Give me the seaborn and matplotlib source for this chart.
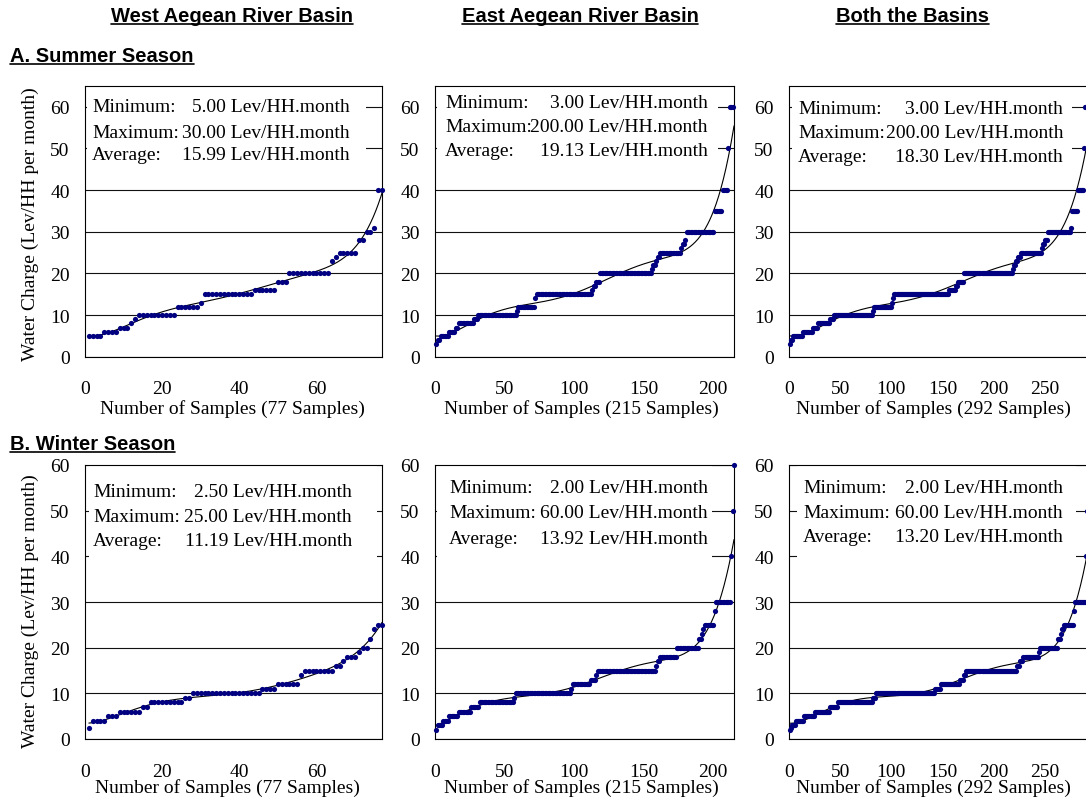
import numpy as np
import pandas as pd
import matplotlib
matplotlib.use("Agg")
import matplotlib.pyplot as plt
import seaborn as sns
from matplotlib.patches import Rectangle
from matplotlib.lines import Line2D

# Household water charges (Lev/HH per month), sorted ascending and stored as
# charge level + number of households paying that level.
west_summer_levels = [5, 6, 7, 8, 9, 10, 12, 13, 15, 16, 18, 20, 23, 24, 25, 28, 30, 31, 40]
west_summer_counts = [4, 4, 3, 1, 1, 10, 6, 1, 13, 6, 3, 11, 1, 1, 5, 2, 2, 1, 2]

east_summer_levels = [3, 4, 5, 6, 7, 8, 9, 10, 11, 12, 14, 15, 16, 17, 18, 20, 21, 22,
                      23, 24, 25, 26, 27, 28, 30, 35, 40, 50, 60, 200]
east_summer_counts = [1, 2, 6, 5, 2, 11, 3, 28, 1, 12, 1, 40, 1, 2, 3, 37, 1, 2,
                      1, 2, 15, 1, 2, 1, 20, 6, 4, 1, 3, 1]

west_winter_levels = [2.5, 4, 5, 6, 7, 8, 9, 10, 11, 12, 14, 15, 16, 17, 18, 19, 20, 22, 24, 25]
west_winter_counts = [1, 4, 3, 6, 2, 9, 2, 18, 4, 6, 1, 8, 2, 1, 3, 1, 2, 1, 1, 2]

east_winter_levels = [2, 3, 4, 5, 6, 7, 8, 9, 10, 11, 12, 13, 14, 15, 16, 17, 18, 20,
                      22, 23, 24, 25, 28, 30, 40, 50, 60]
east_winter_counts = [1, 4, 4, 7, 9, 6, 25, 1, 40, 1, 13, 4, 1, 42, 1, 2, 12, 16,
                      2, 1, 1, 7, 1, 11, 1, 1, 1]

basin_titles = ["West Aegean River Basin", "East Aegean River Basin", "Both the Basins"]
season_titles = ["A. Summer Season", "B. Winter Season"]

summer_min = ["5.00", "3.00", "3.00"]
summer_max = ["30.00", "200.00", "200.00"]
summer_avg = ["15.99", "19.13", "18.30"]
winter_min = ["2.50", "2.00", "2.00"]
winter_max = ["25.00", "60.00", "60.00"]
winter_avg = ["11.19", "13.92", "13.20"]

x_ticks = [[0, 20, 40, 60], [0, 50, 100, 150, 200], [0, 50, 100, 150, 200, 250]]
y_ticks = [0, 10, 20, 30, 40, 50, 60]


def expand(levels, counts):
    return np.repeat(np.asarray(levels, dtype=float), counts)


west_summer = expand(west_summer_levels, west_summer_counts)
east_summer = expand(east_summer_levels, east_summer_counts)
west_winter = expand(west_winter_levels, west_winter_counts)
east_winter = expand(east_winter_levels, east_winter_counts)

rows = [
    [west_summer, east_summer, np.sort(np.concatenate([west_summer, east_summer]))],
    [west_winter, east_winter, np.sort(np.concatenate([west_winter, east_winter]))],
]
stats = [
    list(zip(summer_min, summer_max, summer_avg)),
    list(zip(winter_min, winter_max, winter_avg)),
]

sns.set_style("white")
plt.rcParams["font.family"] = ["Liberation Serif", "DejaVu Serif"]
plt.rcParams.update({"text.color": "black", "axes.labelcolor": "black",
                     "xtick.color": "black", "ytick.color": "black"})

SERIF = ["Liberation Serif", "DejaVu Serif"]
SANS = ["Liberation Sans", "DejaVu Sans"]
FS = 14
DOT = "#000080"

W, H = 1086, 803
fig = plt.figure(figsize=(W / 100, H / 100), dpi=100)

col_x = [(85, 382), (435, 734), (789, 1088)]
row_y = [(87, 357.7), (466, 740)]
row_ymax = [65, 60]

# stats box layout in pixels: box (x0, y0, x1, y1), text left, text right, line centres
boxes = [
    [((87, 88, 366, 172), 92, 350, (108, 133, 156)),
     ((437, 88, 718, 172), 445, 708, (104, 127, 152)),
     ((792, 88, 1072, 172), 798, 1063, (109, 133, 157))],
    [((89, 467, 377, 575), 93, 352, (493, 517, 542)),
     ((437, 467, 712, 575), 449, 708, (489, 514, 539)),
     ((797, 467, 1076, 575), 803, 1063, (489, 513, 538))],
]
xlabel_cx = [[232, 581, 933], [227, 581, 933]]
xlabel_dy = [51, 48]
ylabel_cy = [224, 611]


def fig_pos(px, py):
    return px / W, 1 - py / H


for r in range(2):
    y0, y1 = row_y[r]
    for c in range(3):
        x0, x1 = col_x[c]
        ax = fig.add_axes([x0 / W, 1 - y1 / H, (x1 - x0) / W, (y1 - y0) / H])
        vals = rows[r][c]
        n = len(vals)
        df = pd.DataFrame({"sample": np.arange(1, n + 1), "charge": vals})
        ymax = row_ymax[r]
        shown = df[df["charge"] <= ymax]

        # 6th-order polynomial trend through the households on the chart scale
        poly = np.polynomial.Polynomial.fit(shown["sample"], shown["charge"], 6)
        xs = np.linspace(1, n, 600)
        trend = pd.DataFrame({"sample": xs, "charge": poly(xs)})

        ax.set_axisbelow(True)
        ax.yaxis.grid(True, color="#111111", lw=0.8)
        ax.xaxis.grid(False)

        sns.scatterplot(data=shown, x="sample", y="charge", ax=ax, color=DOT,
                        s=14, linewidth=0, zorder=3, clip_on=False)
        sns.lineplot(data=trend, x="sample", y="charge", ax=ax, color="black",
                     lw=0.8, zorder=2)

        ax.set_xlim(0, n)
        ax.set_ylim(0, ymax)
        ax.set_xticks(x_ticks[c])
        ax.set_yticks(y_ticks)
        ax.tick_params(axis="x", direction="in", length=5, width=0.8, pad=17,
                       labelsize=FS, color="black", top=False)
        ax.tick_params(axis="y", length=0, pad=11, labelsize=FS)
        for lab in ax.get_xticklabels() + ax.get_yticklabels():
            lab.set_family(SERIF)
        for sp in ax.spines.values():
            sp.set_color("black")
            sp.set_linewidth(0.8)

        h_px = y1 - y0
        w_px = x1 - x0
        ax.set_xlabel(f"Number of Samples ({n} Samples)", fontsize=FS, family=SERIF,
                      va="center")
        ax.xaxis.set_label_coords((xlabel_cx[r][c] - x0) / w_px, -xlabel_dy[r] / h_px)
        if c == 0:
            ax.set_ylabel("Water Charge (Lev/HH per month)", fontsize=FS, family=SERIF,
                          va="center", ha="center")
            ax.yaxis.set_label_coords((30 - x0) / w_px, (y1 - ylabel_cy[r]) / h_px)
        else:
            ax.set_ylabel("")

        (bx0, by0, bx1, by1), tl, tr, lines = boxes[r][c]
        ax.add_patch(Rectangle(((bx0 - x0) / w_px, (y1 - by1) / h_px),
                               (bx1 - bx0) / w_px, (by1 - by0) / h_px,
                               transform=ax.transAxes, facecolor="white",
                               edgecolor="none", zorder=1))
        mn, mx, av = stats[r][c]
        for label, value, ly in zip(["Minimum:", "Maximum:", "Average:"], [mn, mx, av], lines):
            ax.text((tl - x0) / w_px, (y1 - ly) / h_px, label, transform=ax.transAxes,
                    ha="left", va="center", fontsize=FS, family=SERIF, zorder=4)
            ax.text((tr - x0) / w_px, (y1 - ly) / h_px, f"{value} Lev/HH.month",
                    transform=ax.transAxes, ha="right", va="center", fontsize=FS,
                    family=SERIF, zorder=4)

# Underlined bold headings
headings = []
for title, cx in zip(basin_titles, [232, 580, 912]):
    headings.append(fig.text(*fig_pos(cx, 21.5), title, ha="center", va="baseline",
                             fontsize=14.5, fontweight="bold", family=SANS))
for title, by in zip(season_titles, [61.5, 450]):
    headings.append(fig.text(*fig_pos(10, by), title, ha="left", va="baseline",
                             fontsize=14.5, fontweight="bold", family=SANS))

fig.canvas.draw()
renderer = fig.canvas.get_renderer()
for t in headings:
    bb = t.get_window_extent(renderer)
    _, base = t.get_position()
    y_line = base - 3.0 / H
    fig.add_artist(Line2D([bb.x0 / W, bb.x1 / W], [y_line, y_line], color="black",
                          lw=1.2, transform=fig.transFigure))

fig.savefig("out.png", dpi=100)
